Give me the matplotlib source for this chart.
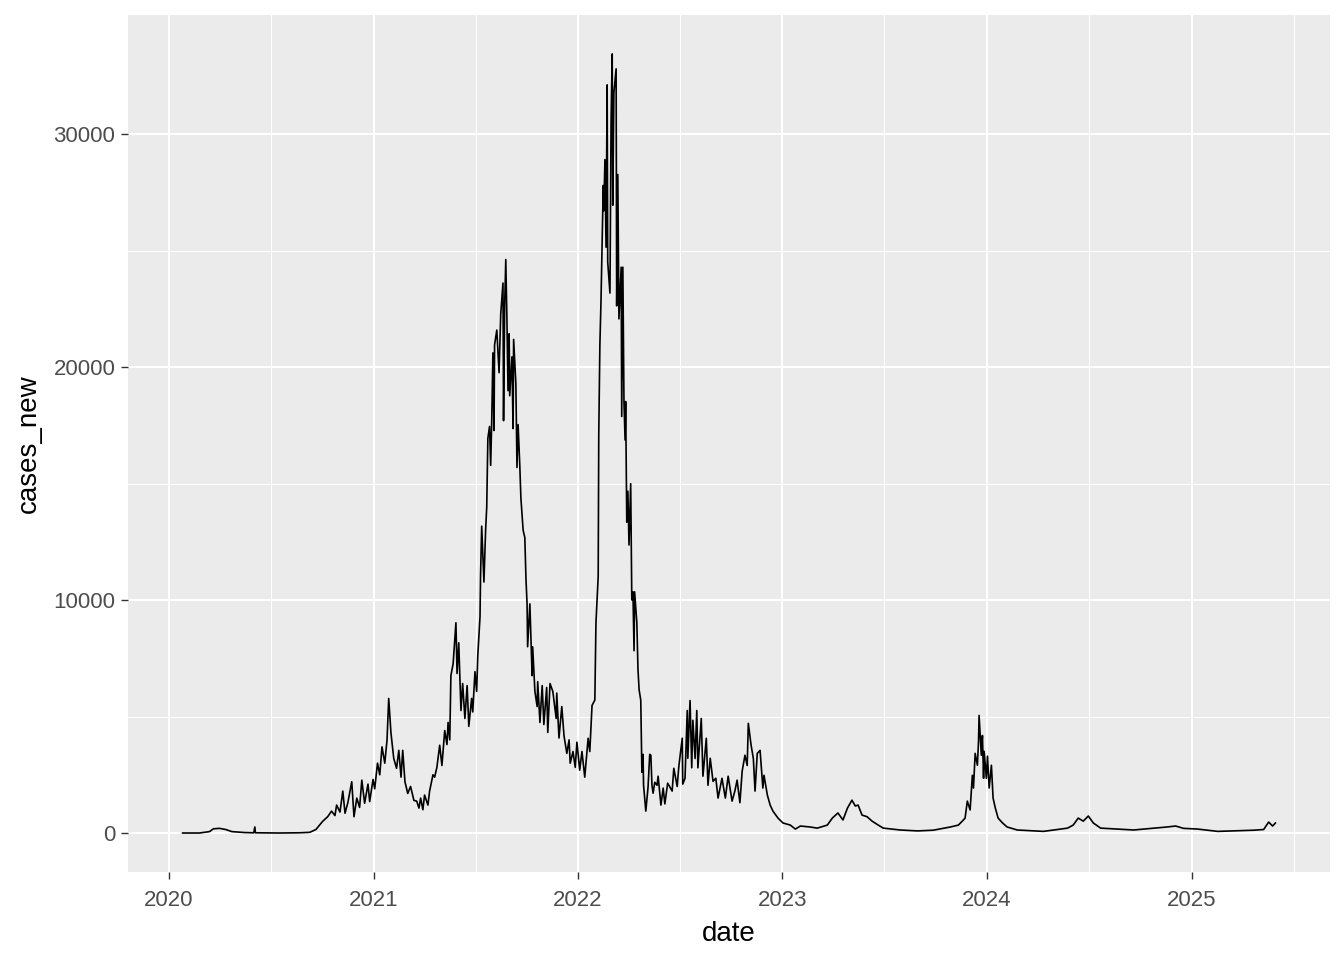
import matplotlib
matplotlib.use("Agg")
import matplotlib.pyplot as plt
import matplotlib.dates as mdates
import numpy as np
import pandas as pd

# days since 2020-01-01
day = [25, 55, 73, 80, 91, 102, 113, 136, 152, 154, 155, 198, 234, 252, 263, 270, 275, 284,
       291, 297, 300, 306, 311, 315, 320, 327, 331, 336, 341, 345, 350, 356, 359, 365, 368,
       373, 377, 381, 386, 390, 393, 397, 400, 402, 407, 411, 415, 418, 422, 427, 432, 438,
       443, 447, 450, 454, 457, 463, 466, 472, 475, 479, 484, 488, 493, 497, 499, 502, 504,
       508, 513, 515, 518, 522, 525, 529, 533, 536, 541, 543, 547, 550, 552, 556, 557, 559,
       563, 566, 568, 570, 573, 575, 577, 579, 581, 582, 586, 590, 593, 597, 598, 600, 602,
       604, 606, 608, 609, 613, 615, 616, 620, 622, 624, 627, 629, 633, 636, 638, 640, 641,
       645, 649, 650, 654, 658, 659, 663, 667, 670, 675, 677, 681, 686, 692, 693, 697, 702,
       706, 711, 715, 717, 722, 726, 729, 734, 738, 743, 749, 752, 756, 761, 763, 767, 768,
       770, 772, 776, 777, 779, 781, 783, 784, 788, 790, 792, 793, 795, 799, 800, 802, 804,
       808, 809, 811, 813, 815, 816, 818, 820, 822, 825, 827, 829, 831, 832, 836, 838, 840,
       843, 845, 847, 848, 852, 856, 859, 861, 863, 865, 868, 872, 874, 879, 883, 886, 891,
       899, 902, 908, 911, 917, 918, 922, 926, 927, 931, 934, 936, 940, 943, 945, 951, 954,
       960, 963, 967, 972, 977, 981, 988, 994, 999, 1006, 1011, 1015, 1020, 1024, 1029, 1033,
       1035, 1040, 1044, 1047, 1051, 1056, 1061, 1063, 1069, 1074, 1079, 1088, 1097, 1110,
       1119, 1128, 1145, 1158, 1176, 1185, 1195, 1204, 1212, 1220, 1226, 1231, 1238, 1247,
       1256, 1267, 1276, 1306, 1337, 1365, 1396, 1410, 1417, 1422, 1426, 1431, 1435, 1437,
       1440, 1444, 1446, 1447, 1451, 1453, 1455, 1456, 1460, 1462, 1465, 1469, 1472, 1476,
       1481, 1489, 1497, 1515, 1562, 1605, 1615, 1624, 1633, 1642, 1651, 1664, 1723, 1783,
       1798, 1812, 1837, 1873, 1937, 1955, 1964, 1971, 1976]

cases_new = [0, 0, 60, 180, 200, 150, 60, 20, 10, 260, 10, 0, 10, 30, 150, 350, 500, 700,
             940, 750, 1200, 900, 1800, 850, 1300, 2200, 700, 1500, 1100, 2270, 1280, 2100,
             1350, 2300, 1900, 3000, 2500, 3700, 3000, 4000, 5780, 4300, 3640, 3200, 2780,
             3550, 2400, 3550, 2200, 1700, 2000, 1400, 1370, 1070, 1500, 1000, 1630, 1200,
             1800, 2500, 2400, 2820, 3770, 2900, 4400, 3800, 4750, 4000, 6760, 7270, 9030,
             6850, 8170, 5260, 6420, 4920, 6330, 4580, 5780, 5200, 6930, 6080, 7600, 9290,
             11100, 13180, 10780, 13000, 14000, 16950, 17460, 15790, 17780, 20620, 17290,
             20970, 21600, 19770, 22290, 23620, 17710, 22640, 24630, 22120, 19000, 21440,
             18780, 20450, 17370, 21200, 19300, 15700, 17540, 15790, 14380, 13000, 12690,
             10950, 9840, 8000, 9840, 6760, 8000, 6080, 5430, 6500, 4750, 6330, 4660, 6250,
             4320, 6420, 6080, 4920, 6010, 4080, 5430, 4170, 3420, 4000, 3000, 3500, 2820,
             3900, 2700, 3500, 2400, 4070, 3500, 5480, 5710, 9030, 11020, 17100, 20970, 22850,
             27810, 26720, 28920, 25160, 32130, 24520, 23190, 30600, 33460, 26960, 31790,
             32820, 22640, 28280, 22080, 24300, 17890, 24300, 18530, 16880, 18530, 13350,
             14680, 12370, 15000, 10010, 10360, 7830, 10360, 9030, 7040, 6160, 5700, 2610,
             3380, 2050, 940, 1970, 3380, 3340, 2050, 1710, 2180, 2050, 2440, 1200, 1930, 1250,
             2140, 1800, 2780, 2000, 2870, 4070, 2100, 2350, 5260, 3210, 5690, 2800, 4840,
             3200, 5260, 2800, 4920, 2440, 4070, 2050, 3210, 2220, 2350, 1500, 2350, 1500,
             2440, 1370, 1800, 2270, 1300, 2650, 3340, 2900, 4710, 3770, 3200, 1800, 3420,
             3550, 1930, 2480, 1630, 1200, 940, 640, 430, 340, 170, 300, 260, 210, 340, 640,
             860, 560, 1070, 1410, 1160, 1200, 770, 700, 510, 340, 210, 130, 90, 120, 260, 340,
             510, 640, 1370, 990, 2480, 1930, 3420, 2910, 3940, 5050, 3340, 4190, 2350, 3510,
             2350, 3300, 1930, 2910, 1500, 1070, 640, 430, 260, 130, 70, 210, 340, 640, 510,
             730, 430, 210, 130, 260, 300, 200, 170, 70, 120, 150, 470, 300, 430]

date = pd.Timestamp("2020-01-01") + pd.to_timedelta(day, unit="D")

plt.rcParams["font.family"] = ["Liberation Sans", "DejaVu Sans"]

fig = plt.figure(figsize=(13.44, 9.6), dpi=100)
ax = fig.add_axes([0.0952, 0.0917, 0.8944, 0.8927])
ax.set_facecolor("#EBEBEB")

ax.plot(date, cases_new, color="black", linewidth=1.2)
ax.margins(x=0.05, y=0.05)
xlim = ax.get_xlim()
ylim = ax.get_ylim()

ax.set_yticks([0, 10000, 20000, 30000])
ax.set_yticks([5000, 15000, 25000], minor=True)
years = pd.to_datetime(["2020-01-01", "2021-01-01", "2022-01-01", "2023-01-01",
                        "2024-01-01", "2025-01-01"])
ax.set_xticks(years)
ax.set_xticks(pd.to_datetime(["2020-07-02", "2021-07-02", "2022-07-02",
                              "2023-07-02", "2024-07-02", "2025-07-02"]), minor=True)
ax.xaxis.set_major_formatter(mdates.DateFormatter("%Y"))
ax.set_xlim(xlim)
ax.set_ylim(ylim)

ax.grid(which="major", color="white", linewidth=1.5)
ax.grid(which="minor", color="white", linewidth=0.75)
ax.set_axisbelow(True)
for s in ax.spines.values():
    s.set_visible(False)

ax.tick_params(which="major", length=5, width=1, color="#333333",
               labelsize=16, labelcolor="#4D4D4D", pad=4)
ax.tick_params(axis="x", which="major", pad=8)
ax.tick_params(which="minor", length=0)

ax.set_xlabel("date", fontsize=20, labelpad=7)
ax.set_ylabel("cases_new", fontsize=20, labelpad=8)

fig.savefig("out.png", dpi=100)
